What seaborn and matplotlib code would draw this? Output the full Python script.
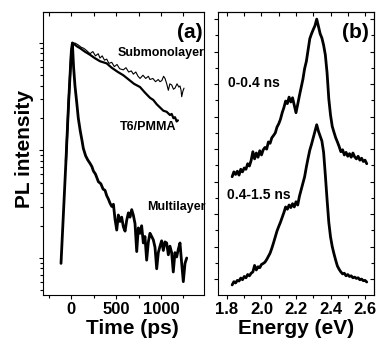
import numpy as np
import seaborn as sns
import matplotlib
matplotlib.use("Agg")
import matplotlib.pyplot as plt
from matplotlib.ticker import MultipleLocator, NullFormatter, LogLocator

# (a) time-resolved PL, values read as log10(intensity)
ml_time = [-115, -90, -60, -30, 0, 12, 25, 41, 60, 78, 100, 120, 134, 160, 185,
           209, 230, 246, 270, 302, 330, 355, 376, 395, 413, 432, 451, 470, 488, 507,
           525, 544, 562, 581, 600, 618, 637, 655, 674, 692, 711, 730, 748, 767, 785,
           804, 822, 841, 860, 878, 897, 915, 934, 953, 971, 990, 1008, 1027, 1046, 1064,
           1083, 1101, 1120, 1138, 1157, 1176, 1194, 1213, 1232, 1250, 1269, 1288]
ml_log = [-2.05, -1.62, -1.10, -0.55, -0.08, 0.0, -0.22, -0.40, -0.55, -0.70,
          -0.82, -0.91, -0.98, -1.05, -1.09, -1.12, -1.15, -1.19, -1.22, -1.29,
          -1.31, -1.36, -1.37, -1.42, -1.45, -1.49, -1.52, -1.50, -1.64, -1.74,
          -1.60, -1.66, -1.62, -1.71, -1.75, -1.65, -1.58, -1.62, -1.55, -1.60,
          -1.68, -1.94, -1.72, -1.77, -1.70, -1.86, -1.80, -2.02, -1.85, -1.77,
          -1.80, -1.83, -1.90, -2.10, -1.95, -1.89, -1.84, -1.93, -1.85, -1.86,
          -1.97, -1.89, -1.95, -2.13, -1.95, -1.99, -1.92, -1.86, -2.05, -2.22,
          -2.05, -2.00]

t6_time = [-60, -30, 0, 15, 30, 60, 100, 150, 209, 260, 320, 395, 450, 520, 580,
           640, 700, 767, 820, 878, 915, 953, 990, 1027, 1064, 1101, 1120, 1140, 1157, 1176, 1190]
t6_log = [-1.10, -0.55, -0.08, 0.0, -0.01, -0.03, -0.05, -0.08, -0.11, -0.14,
          -0.17, -0.19, -0.23, -0.27, -0.30, -0.34, -0.38, -0.41, -0.46, -0.51,
          -0.53, -0.57, -0.60, -0.63, -0.64, -0.67, -0.66, -0.70, -0.69, -0.73, -0.72]

sub_time = [-60, -30, 0, 20, 40, 60, 80, 110, 140, 170, 209, 240, 270, 300, 320,
            345, 370, 395, 420, 451, 480, 510, 540, 580, 610, 640, 670, 692, 720, 745,
            767, 800, 830, 860, 878, 910, 940, 970, 990, 1010, 1030, 1046, 1065, 1083, 1100,
            1120, 1140, 1157, 1180, 1200, 1213, 1225, 1232, 1245, 1258]
sub_log = [-1.10, -0.55, -0.08, -0.01, 0.0, -0.01, -0.02, -0.04, -0.05, -0.07,
           -0.10, -0.08, -0.12, -0.10, -0.14, -0.12, -0.16, -0.15, -0.19, -0.18,
           -0.22, -0.20, -0.24, -0.25, -0.23, -0.27, -0.26, -0.29, -0.27, -0.31,
           -0.33, -0.30, -0.33, -0.31, -0.34, -0.33, -0.36, -0.34, -0.36, -0.35,
           -0.31, -0.33, -0.38, -0.44, -0.38, -0.39, -0.43, -0.42, -0.38, -0.41,
           -0.40, -0.44, -0.50, -0.45, -0.42]

# (b) time-resolved spectra (arbitrary units, curves offset)
energy = [1.83, 1.84, 1.85, 1.86, 1.87, 1.88, 1.89, 1.90, 1.91, 1.92,
          1.93, 1.94, 1.95, 1.96, 1.97, 1.98, 1.99, 2.00, 2.01, 2.02,
          2.03, 2.04, 2.05, 2.06, 2.07, 2.08, 2.09, 2.10, 2.11, 2.12,
          2.13, 2.14, 2.15, 2.16, 2.17, 2.18, 2.19, 2.20, 2.21, 2.22,
          2.23, 2.24, 2.25, 2.26, 2.27, 2.28, 2.29, 2.30, 2.31, 2.32,
          2.33, 2.34, 2.35, 2.36, 2.37, 2.38, 2.39, 2.40, 2.41, 2.42,
          2.43, 2.44, 2.45, 2.46, 2.47, 2.48, 2.49, 2.50, 2.51, 2.52,
          2.53, 2.54, 2.55, 2.56, 2.57, 2.58, 2.59, 2.60, 2.61]
early_pl = [3.15, 3.30, 3.22, 3.32, 3.20, 3.38, 3.30, 3.42, 3.38, 3.55,
            3.48, 3.65, 3.92, 3.70, 3.88, 3.75, 3.95, 3.82, 3.98, 4.05,
            4.00, 4.22, 4.18, 4.35, 4.42, 4.50, 4.68, 4.78, 4.92, 5.12,
            5.28, 5.48, 5.40, 5.60, 5.45, 5.58, 5.35, 5.12, 5.38, 5.65,
            5.90, 6.15, 6.48, 6.70, 7.05, 7.40, 7.55, 7.68, 7.80, 8.00,
            7.78, 7.55, 7.42, 7.20, 6.90, 6.35, 5.55, 5.05, 4.70, 4.52,
            4.35, 4.22, 4.08, 3.92, 3.98, 3.82, 3.90, 3.78, 3.86, 3.75,
            3.88, 3.76, 3.70, 3.78, 3.66, 3.72, 3.62, 3.66, 3.55]
late_pl = [-0.18, -0.08, -0.12, -0.04, -0.06, 0.03, -0.02, 0.08, 0.04, 0.14,
           0.10, 0.18, 0.22, 0.42, 0.28, 0.38, 0.35, 0.45, 0.48, 0.52,
           0.60, 0.70, 0.80, 0.95, 1.12, 1.30, 1.48, 1.62, 1.75, 1.90,
           2.05, 2.22, 2.15, 2.28, 2.20, 2.32, 2.22, 2.38, 2.28, 2.55,
           2.75, 2.95, 3.15, 3.45, 3.72, 3.97, 4.15, 4.35, 4.55, 4.75,
           4.55, 4.40, 4.25, 3.90, 3.20, 2.45, 1.75, 1.30, 1.00, 0.78,
           0.58, 0.40, 0.30, 0.22, 0.16, 0.18, 0.10, 0.14, 0.08, 0.10,
           0.04, 0.06, 0.02, 0.04, -0.02, 0.00, -0.05, -0.04, -0.09]

sns.set_theme(style="ticks")
plt.rcParams["font.family"] = ["Liberation Sans", "DejaVu Sans"]
plt.rcParams["font.weight"] = "bold"
plt.rcParams["axes.linewidth"] = 0.8
for key in ("text.color", "axes.labelcolor", "xtick.color", "ytick.color", "axes.edgecolor"):
    plt.rcParams[key] = "black"

fig = plt.figure(figsize=(3.8, 3.39), dpi=100)
ax1 = fig.add_axes([43 / 380, 44 / 339, 161 / 380, 283 / 339])
ax2 = fig.add_axes([218 / 380, 44 / 339, 156 / 380, 283 / 339])

# panel (a)
sns.lineplot(x=sub_time, y=np.power(10.0, sub_log), ax=ax1, color="black", lw=0.8)
sns.lineplot(x=t6_time, y=np.power(10.0, t6_log), ax=ax1, color="black", lw=1.6)
sns.lineplot(x=ml_time, y=np.power(10.0, ml_log), ax=ax1, color="black", lw=2.0)
ax1.set_yscale("log")
ax1.set_xlim(-316, 1481)
ax1.set_ylim(10 ** -2.344, 10 ** 0.288)
ax1.xaxis.set_major_locator(MultipleLocator(500))
ax1.xaxis.set_minor_locator(MultipleLocator(250))
ax1.yaxis.set_major_locator(LogLocator(base=10))
ax1.yaxis.set_minor_locator(LogLocator(base=10, subs=np.arange(2, 10)))
ax1.yaxis.set_major_formatter(NullFormatter())
ax1.yaxis.set_minor_formatter(NullFormatter())
ax1.tick_params(axis="both", which="both", direction="out", right=False, top=False,
                labelsize=12, pad=1.5, width=0.8)
ax1.tick_params(which="major", length=3.2)
ax1.tick_params(which="minor", length=2.2)
sec1 = ax1.secondary_xaxis("top")
sec1.xaxis.set_major_locator(MultipleLocator(250))
sec1.xaxis.set_major_formatter(NullFormatter())
sec1.tick_params(direction="in", length=3, width=0.8)

ax1.text(0.913, 0.929, "(a)", transform=ax1.transAxes, ha="center", va="center",
         fontsize=15, fontweight="bold")
ax1.text(0.466, 0.855, "Submonolayer", transform=ax1.transAxes, ha="left", va="center",
         fontsize=9, fontweight="bold")
ax1.text(0.478, 0.594, "T6/PMMA", transform=ax1.transAxes, ha="left", va="center",
         fontsize=9, fontweight="bold")
ax1.text(0.646, 0.311, "Multilayer", transform=ax1.transAxes, ha="left", va="center",
         fontsize=9, fontweight="bold")

# panel (b)
sns.lineplot(x=energy, y=early_pl, ax=ax2, color="black", lw=2.0)
sns.lineplot(x=energy, y=late_pl, ax=ax2, color="black", lw=2.0)
ax2.set_xlim(1.748, 2.652)
ax2.set_ylim(-0.49, 8.22)
ax2.xaxis.set_major_locator(MultipleLocator(0.2))
ax2.xaxis.set_minor_locator(MultipleLocator(0.1))
ax2.yaxis.set_major_locator(MultipleLocator(1))
ax2.yaxis.set_minor_locator(MultipleLocator(0.5))
ax2.yaxis.set_major_formatter(NullFormatter())
ax2.xaxis.set_major_formatter(plt.FuncFormatter(lambda v, p: f"{v:.1f}"))
ax2.tick_params(axis="both", which="both", direction="out", right=False, top=False,
                labelsize=12, pad=1.5, width=0.8)
ax2.tick_params(which="major", length=3.2)
ax2.tick_params(which="minor", length=2.2)
sec2x = ax2.secondary_xaxis("top")
sec2x.xaxis.set_major_locator(MultipleLocator(0.1))
sec2x.xaxis.set_major_formatter(NullFormatter())
sec2x.tick_params(direction="in", length=3, width=0.8)
sec2y = ax2.secondary_yaxis("right")
sec2y.yaxis.set_major_locator(MultipleLocator(1))
sec2y.yaxis.set_minor_locator(MultipleLocator(0.5))
sec2y.yaxis.set_major_formatter(NullFormatter())
sec2y.tick_params(which="both", direction="in", width=0.8)
sec2y.tick_params(which="major", length=3.2)
sec2y.tick_params(which="minor", length=2.2)

ax2.text(0.878, 0.929, "(b)", transform=ax2.transAxes, ha="center", va="center",
         fontsize=15, fontweight="bold")
ax2.text(0.064, 0.749, "0-0.4 ns", transform=ax2.transAxes, ha="left", va="center",
         fontsize=10, fontweight="bold")
ax2.text(0.058, 0.353, "0.4-1.5 ns", transform=ax2.transAxes, ha="left", va="center",
         fontsize=10, fontweight="bold")

for a in (ax1, ax2):
    for lab in a.get_xticklabels():
        lab.set_fontweight("bold")

fig.text(24 / 380, 1 - 149 / 339, "PL intensity", rotation=90, ha="center", va="center",
         fontsize=15, fontweight="bold")
fig.text(132 / 380, 1 - 328 / 339, "Time (ps)", ha="center", va="center",
         fontsize=15, fontweight="bold")
fig.text(296 / 380, 1 - 328 / 339, "Energy (eV)", ha="center", va="center",
         fontsize=15, fontweight="bold")

fig.savefig("out.png", dpi=100)
